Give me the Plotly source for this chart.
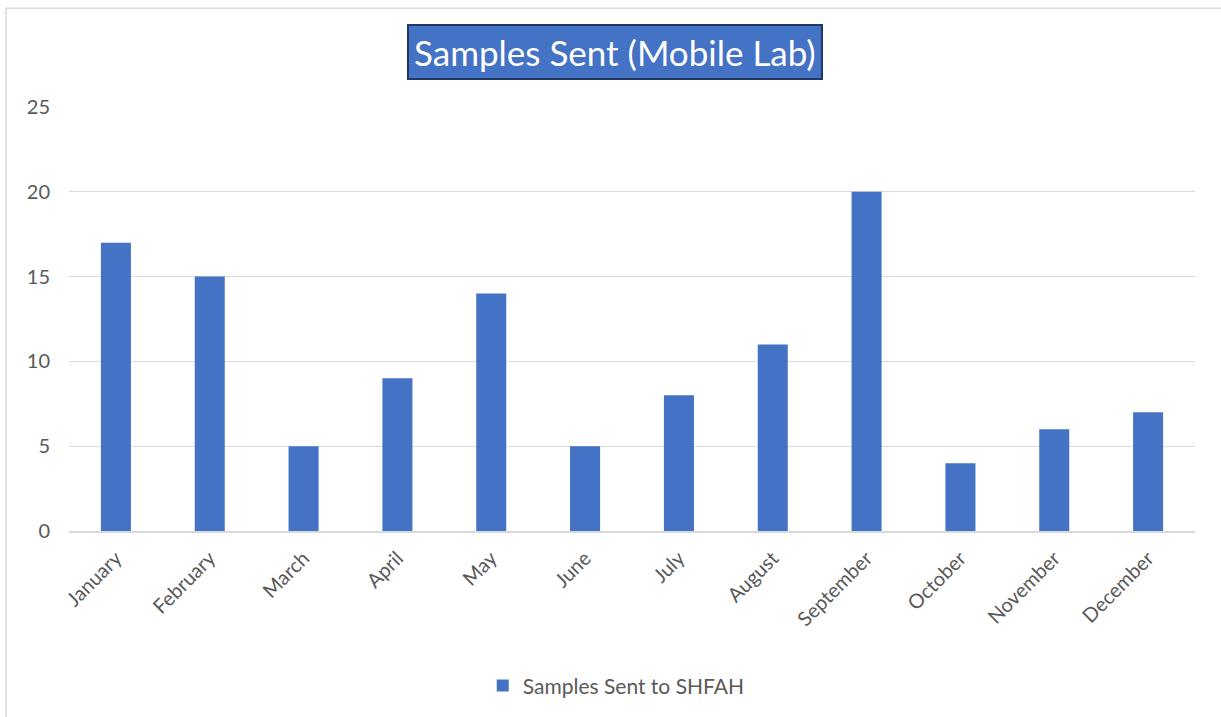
import plotly.graph_objects as go

months = ["January", "February", "March", "April", "May", "June", "July",
          "August", "September", "October", "November", "December"]
samples = [17, 15, 5, 9, 14, 5, 8, 11, 20, 4, 6, 7]
series_name = "Samples Sent to SHFAH"
title_text = "Samples Sent (Mobile Lab)"

fig = go.Figure()
fig.add_trace(go.Bar(x=months, y=samples, name=series_name,
                     marker=dict(color="#4472C4", line=dict(width=0))))

fig.update_layout(
    width=1221, height=717,
    margin=dict(l=69, r=26, t=107, b=185),
    paper_bgcolor="white", plot_bgcolor="white",
    font=dict(family="Lato", color="#595959", size=20),
    bargap=0.68,
    showlegend=True,
    legend=dict(orientation="h", x=0.486, xanchor="center", y=-0.362, yanchor="middle",
                font=dict(size=21, color="#595959")),
    xaxis=dict(tickangle=-45, showgrid=False, showline=True, linecolor="#D9D9D9",
               linewidth=1.5, ticks="", ticklabelstandoff=6,
               tickfont=dict(size=20, color="#595959")),
    yaxis=dict(range=[0, 25], dtick=5, showgrid=True, gridcolor="#D9D9D9", gridwidth=1.2,
               zeroline=False, showline=False, ticks="", ticklabelstandoff=18,
               tickfont=dict(size=20, color="#595959")),
)

fig.add_annotation(text=title_text, xref="paper", yref="paper", x=0.485, y=1.0,
                   xanchor="center", yanchor="bottom", yshift=27, showarrow=False,
                   font=dict(family="Lato", size=35, color="white"),
                   bgcolor="#4472C4", bordercolor="#1F3864", borderwidth=2, borderpad=5)

fig.add_shape(type="rect", xref="paper", yref="paper",
              x0=-63/1126, x1=1 + 40/1126, y0=-200/425, y1=1 + 99/425,
              line=dict(color="#D9D9D9", width=1.5), fillcolor="rgba(0,0,0,0)", layer="below")

fig.write_html("out.html", config={"displayModeBar": False},
               post_script="document.body.style.margin='0';")
